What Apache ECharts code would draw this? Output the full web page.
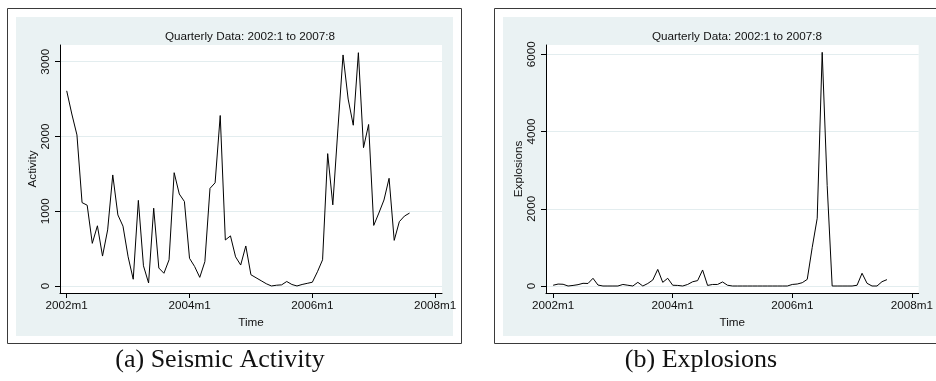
<!DOCTYPE html>
<html><head><meta charset="utf-8">
<script src="https://cdn.jsdelivr.net/npm/echarts@6/dist/echarts.min.js"></script>
<style>html,body{margin:0;padding:0;background:#fff}#c{width:936px;height:381px}</style>
</head><body><div id="c"></div>
<script>
// Monthly observations 2002m1 .. 2007m8 (index 0 = 2002m1)
const activity = [2610,2300,2020,1115,1080,570,805,400,750,1485,950,800,390,90,1145,270,40,1040,240,170,350,1515,1230,1130,370,260,115,325,1305,1380,2280,615,670,390,280,535,150,110,70,30,0,10,15,60,20,0,20,35,50,190,350,1770,1085,2100,3090,2500,2150,3120,1850,2160,810,975,1150,1440,610,860,935,975];
const explosions = [20,50,45,0,15,35,70,65,200,25,0,0,0,0,40,20,0,95,0,65,155,430,95,200,20,15,0,40,110,140,415,15,40,40,105,20,0,0,0,0,0,0,0,0,0,0,0,0,40,52,86,172,1000,1754,6050,2600,0,0,0,0,0,20,330,70,0,0,112,165];
const tickMonths = [0, 24, 48, 72];
const tickLabels = ['2002m1', '2004m1', '2006m1', '2008m1'];
const activityTicks = [0, 1000, 2000, 3000];
const explosionTicks = [0, 2000, 4000, 6000];
const titleText = 'Quarterly Data: 2002:1 to 2007:8';
const captions = ['(a) Seismic Activity', '(b) Explosions'];
const yNames = ['Activity', 'Explosions'];
const xName = 'Time';

const FONT = '"Liberation Sans", Arial, sans-serif';
const TXT = '#111';
const pairs = arr => arr.map((v, i) => [i, v]);

function xAxisCfg(gridIndex, min, max) {
  return {
    type: 'value', gridIndex, min, max,
    name: xName, nameLocation: 'middle', nameGap: 16,
    nameTextStyle: { color: TXT, fontSize: 11.7, fontFamily: FONT },
    axisLine: { show: true, onZero: false, lineStyle: { color: '#000', width: 1 } },
    axisTick: { show: true, length: 5, customValues: tickMonths, lineStyle: { color: '#000', width: 1 } },
    axisLabel: { customValues: tickMonths, formatter: v => tickLabels[tickMonths.indexOf(v)] || '',
      margin: 7, color: TXT, fontSize: 11.7, fontFamily: FONT },
    splitLine: { show: false }
  };
}
function yAxisCfg(gridIndex, min, max, ticks, name) {
  return {
    type: 'value', gridIndex, min, max,
    name, nameLocation: 'middle', nameGap: 21, nameRotate: 90,
    nameTextStyle: { color: TXT, fontSize: 11.7, fontFamily: FONT },
    axisLine: { show: true, onZero: false, lineStyle: { color: '#000', width: 1 } },
    axisTick: { show: true, length: 5, customValues: ticks, lineStyle: { color: '#000', width: 1 } },
    axisLabel: { customValues: ticks, formatter: v => String(v), rotate: 90, margin: 8,
      color: TXT, fontSize: 11.7, fontFamily: FONT },
    splitLine: { show: true, lineStyle: { color: '#e3edef', width: 1 } }
  };
}
function lineSeries(idx, data) {
  return {
    type: 'line', xAxisIndex: idx, yAxisIndex: idx, data: pairs(data),
    showSymbol: false, symbol: 'none', lineStyle: { color: '#000', width: 1 },
    animation: false, silent: true
  };
}
function txt(x, y, text, font) {
  return { type: 'text', x, y, z: 5, silent: true,
    style: { text, fill: TXT, font, align: 'center', verticalAlign: 'middle' } };
}

const chart = echarts.init(document.getElementById('c'), null, { renderer: 'canvas' });
chart.setOption({
  backgroundColor: '#fff',
  animation: false,
  grid: [
    { left: 60, top: 45, right: 494, bottom: 88, show: true, backgroundColor: '#fff', borderWidth: 0 },
    { left: 546, top: 45, right: 6.7, bottom: 88, show: true, backgroundColor: '#fff', borderWidth: 0 }
  ],
  xAxis: [xAxisCfg(0, -1.31, 73.34), xAxisCfg(1, -1.43, 73.36)],
  yAxis: [yAxisCfg(0, -94, 3223, activityTicks, yNames[0]), yAxisCfg(1, -181, 6240, explosionTicks, yNames[1])],
  series: [lineSeries(0, activity), lineSeries(1, explosions)],
  graphic: [
    { type: 'rect', z: -10, silent: true, shape: { x: 7.5, y: 8.5, width: 454, height: 335 },
      style: { fill: '#fff', stroke: '#3a3a3a', lineWidth: 1 } },
    { type: 'rect', z: -9, silent: true, shape: { x: 16, y: 17, width: 437, height: 319 },
      style: { fill: '#eaf2f3' } },
    { type: 'rect', z: -10, silent: true, shape: { x: 494.5, y: 8.5, width: 460, height: 335 },
      style: { fill: '#fff', stroke: '#3a3a3a', lineWidth: 1 } },
    { type: 'rect', z: -9, silent: true, shape: { x: 503, y: 17, width: 440, height: 319 },
      style: { fill: '#eaf2f3' } },
    txt(250, 36.5, titleText, '11.7px ' + FONT),
    txt(737, 36.5, titleText, '11.7px ' + FONT),
    txt(220, 360, captions[0], '26px "Liberation Serif", serif'),
    txt(701, 360, captions[1], '26px "Liberation Serif", serif')
  ]
});
</script>
</body></html>
